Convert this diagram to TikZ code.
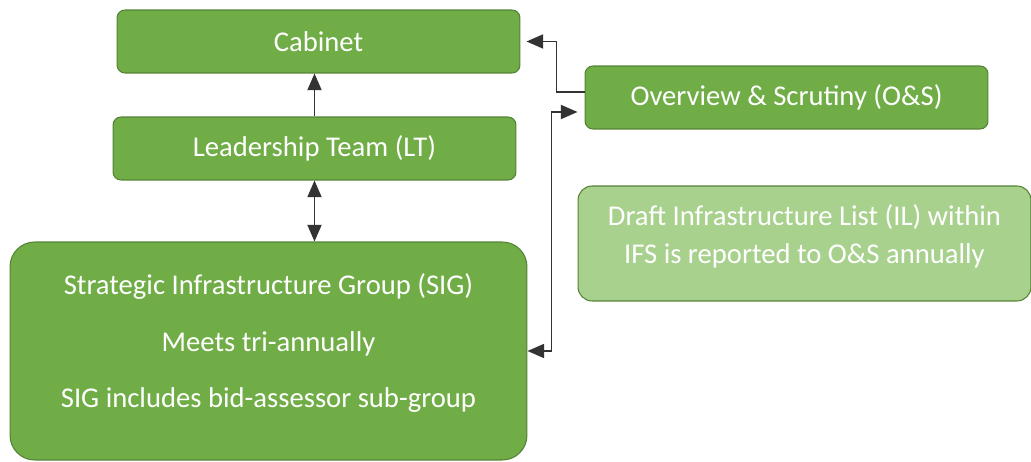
\documentclass[tikz,border=0pt]{standalone}
\usepackage{fontspec}
\setmainfont{Carlito}
\usetikzlibrary{arrows.meta}
\definecolor{boxgreen}{HTML}{70AD47}
\definecolor{edgegreen}{HTML}{548235}
\definecolor{palegreen}{HTML}{A9D18E}

\begin{document}
\begin{tikzpicture}[
  x=0.02cm, y=-0.02cm,
  gbox/.style={rectangle, rounded corners=4.5pt, draw=edgegreen, fill=boxgreen,
    text=white, font=\fontsize{16.3}{21.6}\selectfont, align=center,
    inner sep=0pt, line width=0.6pt, minimum width=8.06cm, minimum height=1.26cm},
  link/.style={draw=black!80, line width=1pt},
  >={Triangle[length=9.5pt,width=8pt]}
]
  \useasboundingbox (0,0) rectangle (1031,462);

  \node[gbox] (cab) at (318.5,41.5) {Cabinet};
  \node[gbox] (lt) at (314.5,148.5) {Leadership Team (LT)};
  \node[gbox, minimum width=10.34cm, minimum height=4.36cm, rounded corners=14pt,
    text depth=11.8pt] (sig) at (268.5,351)
    {Strategic Infrastructure Group (SIG)\\[10.7pt]
     Meets tri-annually\\[10.7pt]
     SIG includes bid-assessor sub-group};
  \node[gbox, fill=palegreen, minimum width=9.06cm, minimum height=2.3cm,
    rounded corners=8pt, text depth=10.5pt] (il) at (804.5,243.5)
    {Draft Infrastructure List (IL) within\\IFS is reported to O\&S annually};
  \node[gbox] (os) at (786.5,97.5) {Overview \& Scrutiny (O\&S)};

  \draw[link, ->] (lt.north) -- (lt.north |- cab.south);
  \draw[link, <->] (lt.south) -- (lt.south |- sig.north);
  \draw[link, ->] ([yshift=0.11cm]os.west) -| ([xshift=0.72cm]cab.east)
    -- ([xshift=0.12cm]cab.east);
  \draw[link, <->] (sig.east) -| ([xshift=-0.66cm,yshift=-0.29cm]os.west)
    -- ([xshift=-0.14cm,yshift=-0.29cm]os.west);
\end{tikzpicture}
\end{document}
